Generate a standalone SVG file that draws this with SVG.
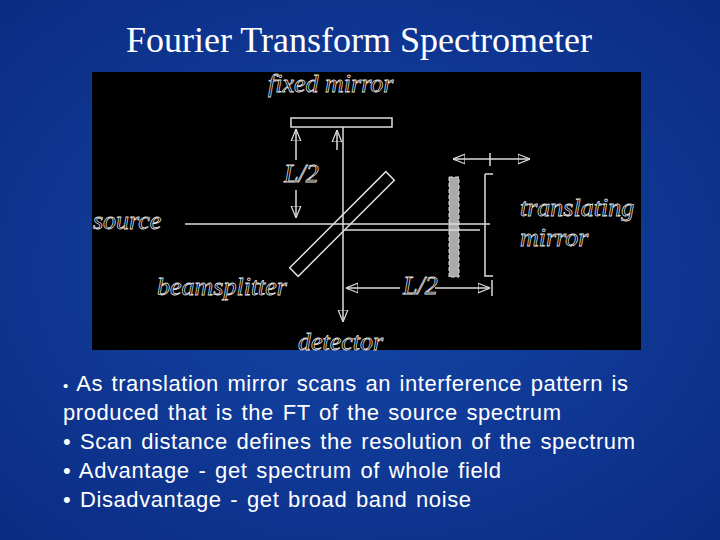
<svg xmlns="http://www.w3.org/2000/svg" width="720" height="540" viewBox="0 0 720 540">
<defs>
<radialGradient id="bg" cx="50%" cy="50%" r="75%">
<stop offset="0" stop-color="#1446a8"/><stop offset="1" stop-color="#0a2a80"/>
</radialGradient>
<marker id="ah" viewBox="0 0 10 10" refX="10" refY="5" markerWidth="12" markerHeight="14" orient="auto-start-reverse" markerUnits="userSpaceOnUse">
<path d="M0,1 L10,5 L0,9 Z" fill="none" stroke="#ddd" stroke-width="1"/>
</marker>
<style>
.ln{stroke:#ddd;stroke-width:1.5;fill:none}
.lb{font-family:"Liberation Serif",serif;font-style:italic;font-size:26px;fill:#000;stroke:#ddd;stroke-width:0.8}
.tx{font-family:"Liberation Sans",Arial,sans-serif;font-size:22px;word-spacing:2px;fill:#fff}
</style>
</defs>
<rect width="720" height="540" fill="url(#bg)"/>
<text x="359" y="52" text-anchor="middle" font-family="Liberation Serif,serif" font-size="36" fill="#fff">Fourier Transform Spectrometer</text>
<rect x="92" y="72" width="549" height="278" fill="#000"/>
<g id="fixed-mirror"><rect x="291" y="118" width="101" height="9" class="ln"/></g>
<g id="beamsplitter"><rect x="-6" y="-68" width="12" height="136" class="ln" transform="translate(342,224) rotate(45)"/></g>
<g id="translating-mirror"><rect x="449" y="177" width="10" height="100" fill="#aaa" stroke="#ddd" stroke-dasharray="4 2"/></g>
<g id="connectors">
<line x1="343" y1="127" x2="343" y2="322" class="ln" marker-end="url(#ah)"/>
<line x1="337" y1="150" x2="337" y2="130" class="ln" marker-end="url(#ah)"/>
<line x1="185" y1="224" x2="490" y2="224" class="ln"/>
<line x1="345" y1="230" x2="480" y2="230" class="ln"/>
<line x1="296" y1="160" x2="296" y2="129" class="ln" marker-end="url(#ah)"/>
<line x1="296" y1="190" x2="296" y2="218" class="ln" marker-end="url(#ah)"/>
<line x1="400" y1="288" x2="346" y2="288" class="ln" marker-end="url(#ah)"/>
<line x1="435" y1="288" x2="490" y2="288" class="ln" marker-end="url(#ah)"/>
<line x1="492" y1="280" x2="492" y2="296" class="ln"/>
<line x1="490" y1="159" x2="453" y2="159" class="ln" marker-end="url(#ah)"/>
<line x1="490" y1="159" x2="530" y2="159" class="ln" marker-end="url(#ah)"/>
<line x1="490" y1="153" x2="490" y2="166" class="ln"/>
<path d="M485,174 H493 M485,174 V276 H493" class="ln"/>
</g>
<g id="labels">
<text class="lb" x="268" y="92">fixed mirror</text>
<text class="lb" x="93" y="229">source</text>
<text class="lb" x="520" y="216">translating</text>
<text class="lb" x="520" y="246">mirror</text>
<text class="lb" x="157" y="295">beamsplitter</text>
<text class="lb" x="298" y="350">detector</text>
<text class="lb" x="284" y="182" font-size="20">L/2</text>
<text class="lb" x="403" y="294" font-size="20">L/2</text>
</g>
<g id="bullets">
<text class="tx" x="63" y="391" textLength="565" lengthAdjust="spacing"><tspan font-size="15">•</tspan> As translation mirror scans an interference pattern is</text>
<text class="tx" x="63" y="420" textLength="498" lengthAdjust="spacing">produced that is the FT of the source spectrum</text>
<text class="tx" x="63" y="449" textLength="572" lengthAdjust="spacing">• Scan distance defines the resolution of the spectrum</text>
<text class="tx" x="63" y="478" textLength="438" lengthAdjust="spacing">• Advantage - get spectrum of whole field</text>
<text class="tx" x="63" y="507" textLength="408" lengthAdjust="spacing">• Disadvantage - get broad band noise</text>
</g>
</svg>
